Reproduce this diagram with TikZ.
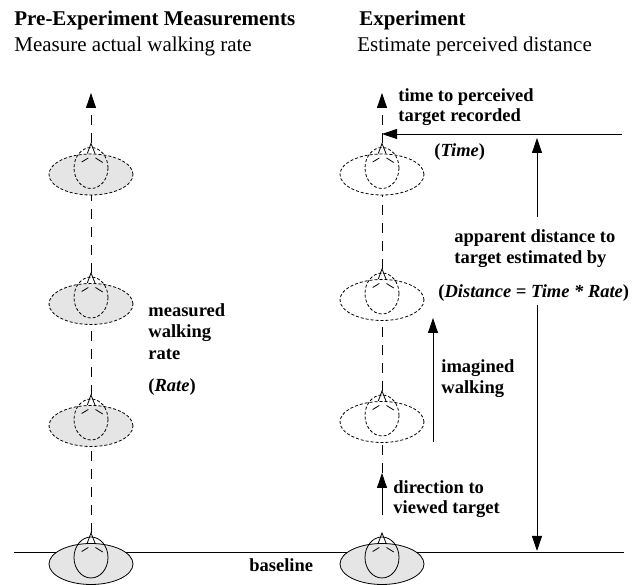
\documentclass[tikz,border=0pt]{standalone}
\usepackage{xcolor}
\usepackage{fontspec}
\setmainfont{Liberation Serif}
\usetikzlibrary{shapes.geometric,arrows.meta}
\definecolor{bodygray}{HTML}{E5E5E5}

\begin{document}
\begin{tikzpicture}[x=1pt,y=1pt,node distance=100pt,line width=0.8pt]
      \tikzset{body/.style={ellipse,draw,inner sep=0pt,minimum width=84pt,minimum height=41pt}}
      \tikzset{head/.style={ellipse,draw,inner sep=0pt,minimum width=34pt,minimum height=41pt}}
      \tikzset{walked/.style={fill=bodygray}}
      \tikzset{seen/.style={solid}}
      \tikzset{ghost/.style={dash pattern=on 3pt off 2pt}}
      \tikzset{walk/.style={dash pattern=on 10pt off 8pt}}
      \tikzset{tip/.style={-{Triangle[width=10pt,length=15pt]}}}
      \tikzset{head title/.style={anchor=base west,inner sep=0pt,font=\fontsize{21}{25}\selectfont}}
      \tikzset{note/.style={anchor=base west,inner sep=0pt,font=\fontsize{18.5}{21}\selectfont\bfseries}}
      \useasboundingbox (0,0) rectangle (641,585);

      \coordinate (basel) at (14,33);
      \coordinate (baser) at (624,33);
      \draw (basel) -- (baser);

      \node[body,walked,seen] (l1) at (91,21) {};
      \node[body,walked,ghost] (l2) [above of=l1,yshift=38pt] {};
      \node[body,walked,ghost] (l3) [above of=l2,yshift=22pt] {};
      \node[body,walked,ghost] (l4) [above of=l3,yshift=29.5pt] {};

      \node[body,walked,seen] (r1) [right of=l1,xshift=191pt] {};
      \node[body,ghost] (r2) [above of=r1,yshift=42pt] {};
      \node[body,ghost] (r3) [above of=r2,yshift=22pt] {};
      \node[body,ghost] (r4) [above of=r3,yshift=25.5pt] {};

      % heads and eyes
      \foreach \p/\s in {l1/seen,l2/ghost,l3/ghost,l4/ghost,r1/seen,r2/ghost,r3/ghost,r4/ghost} {
        \node[head,\s] (\p h) [above of=\p,node distance=6.5pt] {};
        \coordinate (\p a) at ([yshift=31pt]\p.center);
        \draw ([shift={(-3.7,21)}]\p.center) -- (\p a) -- ([shift={(4,21)}]\p.center);
        \draw ([shift={(-2.7,16.5)}]\p.center) -- ([shift={(-9.3,12.5)}]\p.center);
        \draw ([shift={(4.5,16.5)}]\p.center) -- ([shift={(11.7,12)}]\p.center);
      }

      \coordinate (ltop) at (91,492);
      \coordinate (rtop) at (382,492);
      \coordinate (dirs) at (382,70);
      \coordinate (dirt) at (382,112);
      \coordinate (times) at (622,451);
      \coordinate (timet) at (382,451);
      \coordinate (imags) at (433,143);
      \coordinate (imagt) at (433,267);
      \coordinate (distu) at (537,368);
      \coordinate (distut) at (537,447);
      \coordinate (distd) at (537,280);
      \coordinate (distdt) at (537,34);

      \draw[walk] (l1a) -- (l2.south);
      \draw[walk] (l2a) -- (l3.south);
      \draw[walk] (l3a) -- (l4.south);
      \draw[walk,tip] (l4a) -- (ltop);

      \draw[tip] (dirs) -- (dirt);
      \draw[walk] (dirt) -- (r2.south);
      \draw[walk] (r2a) -- (r3.south);
      \draw[walk] (r3a) -- (r4.south);
      \draw[walk,tip] (r4a) -- (rtop);

      \draw[tip] (times) -- (timet);
      \draw[tip] (imags) -- (imagt);
      \draw[tip] (distu) -- (distut);
      \draw[tip] (distd) -- (distdt);

      \node[head title,font=\fontsize{21}{25}\selectfont\bfseries] (pre) at (14,559) {Pre-Experiment Measurements};
      \node[head title] (presub) at (14,533) {Measure actual walking rate};
      \node[head title,font=\fontsize{21}{25}\selectfont\bfseries] (exp) at (359,559) {Experiment};
      \node[head title] (expsub) at (357,533) {Estimate perceived distance};

      \node[note] (time1) at (398,483) {time to perceived};
      \node[note] (time2) at (398,463) {target recorded};
      \node[note] (time3) at (434,428) {(\textit{Time})};
      \node[note] (app1) at (454,342) {apparent distance to};
      \node[note] (app2) at (454,321) {target estimated by};
      \node[note] (app3) at (438,287) {(\textit{Distance = Time * Rate})};
      \node[note] (rate1) at (148,268) {measured};
      \node[note] (rate2) at (148,247) {walking};
      \node[note] (rate3) at (148,225) {rate};
      \node[note] (rate4) at (148,193) {(\textit{Rate})};
      \node[note] (imag1) at (441,212) {imagined};
      \node[note] (imag2) at (441,191) {walking};
      \node[note] (dir1) at (393,91) {direction to};
      \node[note] (dir2) at (393,71) {viewed target};
      \node[note] (base) at (249,13) {baseline};
\end{tikzpicture}
\end{document}
